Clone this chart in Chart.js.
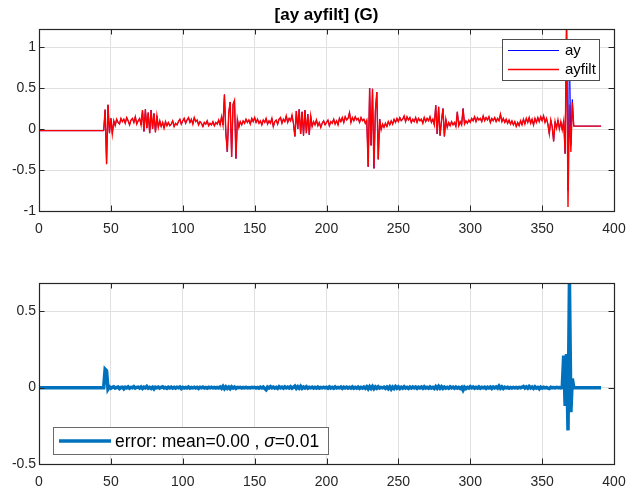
<!DOCTYPE html>
<html>
<head>
<meta charset="utf-8">
<script src="https://cdn.jsdelivr.net/npm/chart.js@4.4.1/dist/chart.umd.min.js"></script>
<style>
  html, body { margin: 0; padding: 0; background: #fff; }
  #wrap { position: relative; width: 630px; height: 490px; }
  canvas { position: absolute; left: 0; }
  #top { top: 0; }
  #bottom { top: 245px; }
</style>
</head>
<body>
<div id="wrap">
  <canvas id="top" width="630" height="245"></canvas>
  <canvas id="bottom" width="630" height="245"></canvas>
</div>
<script>
// sample spacing of the recorded signals
const dt = 1;

const xTicks = [0, 50, 100, 150, 200, 250, 300, 350, 400];
const yTicksTop = [-1, -0.5, 0, 0.5, 1];
const yTicksBottom = [-0.5, 0, 0.5];

// raw lateral acceleration (G)
const ay = [
  -0.02,-0.02,-0.02,-0.02,-0.02,-0.02,-0.02,-0.02,-0.02,-0.02,
  -0.02,-0.02,-0.02,-0.02,-0.02,-0.02,-0.02,-0.02,-0.02,-0.02,
  -0.02,-0.02,-0.02,-0.02,-0.02,-0.02,-0.02,-0.02,-0.02,-0.02,
  -0.02,-0.02,-0.02,-0.02,-0.02,-0.02,-0.02,-0.02,-0.02,-0.02,
  -0.02,-0.02,-0.02,-0.02,-0.02,-0.02,0.23,-0.42,0.29,-0.05,
  0.13,-0.06,0.10,0.04,0.12,0.08,0.06,0.13,0.09,0.12,
  0.07,0.14,0.10,0.05,0.11,0.13,0.08,0.15,0.06,0.10,
  0.13,0.05,0.23,-0.03,0.24,0.01,0.20,-0.05,0.23,0.00,
  0.19,-0.04,0.16,0.02,0.10,0.03,0.08,0.01,0.09,0.04,
  0.08,0.04,0.06,0.10,0.03,0.07,0.05,0.09,0.12,0.06,
  0.10,0.13,0.07,0.11,0.14,0.08,0.12,0.06,0.14,0.09,
  0.11,0.05,0.09,0.07,0.03,0.08,0.06,0.10,0.04,0.07,
  0.05,0.09,0.04,0.08,0.06,0.11,0.05,0.15,0.05,0.42,
  -0.05,-0.28,0.20,0.33,-0.34,0.30,0.35,-0.36,0.12,0.02,
  0.09,0.05,0.10,0.07,0.12,0.08,0.11,0.06,0.13,0.09,
  0.14,0.08,0.12,0.07,0.10,0.05,0.11,0.08,0.13,0.06,
  0.10,0.07,0.13,0.03,0.09,0.11,0.06,0.12,0.14,0.07,
  0.12,0.09,0.16,0.08,0.13,0.10,0.17,0.07,-0.09,0.22,
  0.00,0.24,-0.06,0.21,-0.08,0.23,-0.05,0.18,-0.07,0.16,
  0.03,0.09,0.05,0.11,0.04,0.08,0.02,0.07,0.10,0.05,
  0.08,0.11,0.04,0.09,0.07,0.12,0.06,0.10,0.05,0.13,
  0.09,0.14,0.08,0.15,0.11,0.13,0.20,0.08,0.14,0.10,
  0.15,0.11,0.13,0.08,0.14,0.10,0.12,0.07,0.11,-0.46,
  0.50,-0.20,0.49,-0.48,0.22,0.45,-0.37,0.12,-0.01,0.06,
  0.02,0.07,0.03,0.09,0.05,0.10,0.06,0.12,0.08,0.13,
  0.09,0.14,0.10,0.12,0.16,0.09,0.15,0.11,0.14,0.08,
  0.12,0.09,0.14,0.08,0.13,0.10,0.12,0.07,0.14,0.09,
  0.13,0.10,0.15,0.08,0.12,0.05,0.29,-0.06,0.27,-0.08,
  0.10,0.25,-0.09,0.12,0.02,0.08,0.04,0.09,0.05,0.08,
  0.03,0.21,0.04,0.09,0.05,0.25,0.06,0.10,0.07,0.11,
  0.08,0.13,0.10,0.15,0.09,0.14,0.11,0.13,0.09,0.16,
  0.10,0.14,0.11,0.15,0.08,0.13,0.10,0.14,0.09,0.13,
  0.10,0.18,0.09,0.13,0.08,0.12,0.07,0.11,0.06,0.10,
  0.05,0.09,0.03,0.08,0.04,0.10,0.05,0.12,0.06,0.13,
  0.08,0.14,0.07,0.12,0.05,0.13,0.08,0.14,0.09,0.15,
  0.10,0.16,0.08,0.13,0.06,-0.06,0.11,0.03,-0.15,0.09,
  0.01,0.11,0.00,0.09,-0.01,0.10,-0.30,1.35,-0.75,0.99,
  -0.20,0.36,0.035,0.035,0.035,0.035,0.035,0.035,0.035,0.035,
  0.035,0.035,0.035,0.035,0.035,0.035,0.035,0.035,0.035,0.035,
  0.035,0.035
];

// filtered lateral acceleration (G)
const ayfilt = [
  -0.02,-0.02,-0.02,-0.02,-0.02,-0.02,-0.02,-0.02,-0.02,-0.02,
  -0.02,-0.02,-0.02,-0.02,-0.02,-0.02,-0.02,-0.02,-0.02,-0.02,
  -0.02,-0.02,-0.02,-0.02,-0.02,-0.02,-0.02,-0.02,-0.02,-0.02,
  -0.02,-0.02,-0.02,-0.02,-0.02,-0.02,-0.02,-0.02,-0.02,-0.02,
  -0.02,-0.02,-0.02,-0.02,-0.02,-0.02,0.24,-0.43,0.30,-0.05,
  0.13,-0.06,0.10,0.04,0.12,0.08,0.06,0.13,0.09,0.12,
  0.07,0.14,0.10,0.05,0.11,0.13,0.08,0.15,0.06,0.10,
  0.13,0.05,0.23,-0.03,0.24,0.01,0.20,-0.05,0.23,0.00,
  0.19,-0.04,0.16,0.02,0.10,0.03,0.08,0.01,0.09,0.04,
  0.08,0.04,0.06,0.10,0.03,0.07,0.05,0.09,0.12,0.06,
  0.10,0.13,0.07,0.11,0.14,0.08,0.12,0.06,0.14,0.09,
  0.11,0.05,0.09,0.07,0.03,0.08,0.06,0.10,0.04,0.07,
  0.05,0.09,0.04,0.08,0.06,0.11,0.05,0.15,0.05,0.42,
  -0.05,-0.28,0.20,0.33,-0.34,0.30,0.35,-0.36,0.12,0.02,
  0.09,0.05,0.10,0.07,0.12,0.08,0.11,0.06,0.13,0.09,
  0.14,0.08,0.12,0.07,0.10,0.05,0.11,0.08,0.13,0.06,
  0.10,0.07,0.13,0.03,0.09,0.11,0.06,0.12,0.14,0.07,
  0.12,0.09,0.16,0.08,0.13,0.10,0.17,0.07,-0.09,0.22,
  0.00,0.24,-0.06,0.21,-0.08,0.23,-0.05,0.18,-0.07,0.16,
  0.03,0.09,0.05,0.11,0.04,0.08,0.02,0.07,0.10,0.05,
  0.08,0.11,0.04,0.09,0.07,0.12,0.06,0.10,0.05,0.13,
  0.09,0.14,0.08,0.15,0.11,0.13,0.20,0.08,0.14,0.10,
  0.15,0.11,0.13,0.08,0.14,0.10,0.12,0.07,0.11,-0.46,
  0.50,-0.20,0.49,-0.48,0.22,0.45,-0.37,0.12,-0.01,0.06,
  0.02,0.07,0.03,0.09,0.05,0.10,0.06,0.12,0.08,0.13,
  0.09,0.14,0.10,0.12,0.16,0.09,0.15,0.11,0.14,0.08,
  0.12,0.09,0.14,0.08,0.13,0.10,0.12,0.07,0.14,0.09,
  0.13,0.10,0.15,0.08,0.12,0.05,0.29,-0.06,0.27,-0.08,
  0.10,0.25,-0.09,0.12,0.02,0.08,0.04,0.09,0.05,0.08,
  0.03,0.21,0.04,0.09,0.05,0.25,0.06,0.10,0.07,0.11,
  0.08,0.13,0.10,0.15,0.09,0.14,0.11,0.13,0.09,0.16,
  0.10,0.14,0.11,0.15,0.08,0.13,0.10,0.14,0.09,0.13,
  0.10,0.18,0.09,0.13,0.08,0.12,0.07,0.11,0.06,0.10,
  0.05,0.09,0.03,0.08,0.04,0.10,0.05,0.12,0.06,0.13,
  0.08,0.14,0.07,0.12,0.05,0.13,0.08,0.14,0.09,0.15,
  0.10,0.16,0.08,0.13,0.06,-0.06,0.11,0.03,-0.15,0.09,
  0.01,0.11,0.00,0.09,-0.01,0.10,-0.30,1.35,-0.95,0.30,
  -0.28,0.33,0.035,0.035,0.035,0.035,0.035,0.035,0.035,0.035,
  0.035,0.035,0.035,0.035,0.035,0.035,0.035,0.035,0.035,0.035,
  0.035,0.035
];

// filter error (G)
const err = [
  0,0,0,0,0,0,0,0,0,0,
  0,0,0,0,0,0,0,0,0,0,
  0,0,0,0,0,0,0,0,0,0,
  0,0,0,0,0,0,0,0,0,0,
  0,0,0,0,0,0,0.12,0.11,-0.01,0.005,
  -0.004,0.002,0.006,-0.003,0.001,0.004,-0.006,0.001,0.003,-0.008,
  0.003,-0.002,0.005,-0.004,0.002,-0.001,0.007,-0.003,0.002,0.004,
  -0.003,0.005,-0.006,0.003,-0.002,0.008,-0.004,0.002,-0.005,0.003,
  -0.009,0.003,-0.001,0.004,-0.003,0.002,0.006,-0.002,0.001,-0.005,
  0.003,-0.002,0.004,-0.003,0.002,-0.004,0.003,-0.001,0.004,-0.006,
  0.002,-0.003,0.002,-0.002,0.004,-0.004,0.001,-0.002,0.003,-0.003,
  0.002,-0.005,0.003,-0.001,0.004,-0.003,0.001,-0.004,0.002,-0.002,
  0.003,-0.002,0.001,-0.003,0.002,-0.002,0.004,-0.005,0.008,-0.007,
  0.006,-0.005,0.004,-0.007,0.005,-0.003,0.004,-0.005,0.002,-0.001,
  0.002,-0.003,0.001,-0.002,0.003,-0.002,0.001,-0.002,0.002,-0.001,
  0.002,-0.003,0.001,-0.004,0.003,-0.002,0.004,-0.006,-0.014,0.004,
  -0.003,0.006,-0.002,0.004,-0.003,0.002,-0.005,0.006,-0.002,0.003,
  -0.004,0.005,-0.002,0.004,-0.003,0.006,-0.004,0.002,0.010,-0.005,
  0.006,-0.004,0.009,-0.005,0.004,-0.003,0.006,-0.004,0.002,-0.002,
  0.003,-0.004,0.002,-0.003,0.004,-0.004,0.001,-0.002,0.003,-0.002,
  0.002,-0.004,0.005,-0.003,0.002,-0.004,0.005,-0.003,0.001,-0.002,
  0.004,-0.005,0.003,-0.002,0.004,-0.003,0.002,-0.003,0.005,-0.004,
  0.002,-0.003,0.004,-0.005,0.002,-0.003,0.004,-0.004,0.006,-0.008,
  0.007,-0.006,0.008,-0.007,0.005,-0.004,0.006,-0.003,0.002,-0.002,
  0.003,-0.005,0.004,-0.007,0.005,-0.010,0.004,-0.006,0.007,-0.004,
  0.005,-0.006,0.003,-0.004,0.006,-0.003,0.002,-0.005,0.004,-0.003,
  0.005,-0.002,0.004,-0.005,0.003,-0.002,0.004,-0.004,0.006,-0.003,
  0.002,-0.004,0.005,-0.003,0.002,-0.006,0.007,-0.005,0.009,-0.004,
  0.006,-0.005,0.004,-0.003,0.002,-0.004,0.005,-0.002,0.003,-0.004,
  0.004,-0.003,0.002,-0.005,0.003,-0.016,0.003,-0.006,0.002,-0.003,
  0.006,-0.002,0.004,-0.004,0.002,-0.003,0.005,-0.004,0.002,-0.002,
  0.003,-0.005,0.003,-0.002,0.004,-0.006,0.004,-0.002,0.005,-0.003,
  0.010,-0.004,0.005,-0.006,0.003,-0.002,0.002,-0.004,0.001,-0.003,
  0.002,-0.002,0.001,-0.003,0.002,-0.001,0.003,0.008,-0.003,0.005,
  -0.004,0.008,-0.002,0.004,-0.005,0.006,-0.003,0.002,-0.008,0.003,
  -0.004,0.002,-0.002,0.001,-0.003,-0.006,0.002,-0.001,0.001,-0.002,
  0.002,-0.001,0.001,-0.002,0.000,0.21,-0.12,0.22,-0.28,0.69,
  -0.16,0.06,0,0,0,0,0,0,0,0,
  0,0,0,0,0,0,0,0,0,0,
  0,0
];

const legendTopEntries = ['ay', 'ayfilt'];
const legendBottomParts = ['error: mean=0.00 , ', 'σ', '=0.01'];

Chart.defaults.font.family = '"Liberation Sans", Arial, Helvetica, sans-serif';
Chart.defaults.color = '#262626';

const toPoints = arr => arr.map((v, i) => ({ x: i * dt, y: v }));

const INK = '#262626';
const GRID = '#e0e0e0';

// axes box, inward tick marks on all four sides, title and legend
const framePlugin = {
  id: 'frame',
  afterDraw(chart, args, o) {
    const { ctx, chartArea: a, scales } = chart;
    const L = 5.5;
    const snap = v => Math.round(v) + 0.5;
    ctx.save();
    ctx.strokeStyle = INK;
    ctx.lineWidth = 1;
    ctx.beginPath();
    for (const v of xTicks) {
      const p = snap(scales.x.getPixelForValue(v));
      ctx.moveTo(p, a.bottom); ctx.lineTo(p, a.bottom - L);
      ctx.moveTo(p, a.top); ctx.lineTo(p, a.top + L);
    }
    for (const v of o.yTicks) {
      const p = snap(scales.y.getPixelForValue(v));
      ctx.moveTo(a.left, p); ctx.lineTo(a.left + L, p);
      ctx.moveTo(a.right, p); ctx.lineTo(a.right - L, p);
    }
    ctx.stroke();
    const l = Math.round(a.left), t = Math.round(a.top);
    const r = Math.round(a.right), b = Math.round(a.bottom);
    ctx.lineWidth = 1.2;
    ctx.strokeRect(l + 0.5, t + 0.5, r - l, b - t);

    if (o.title) {
      ctx.fillStyle = '#000';
      ctx.font = 'bold 17px "Liberation Sans", Arial, sans-serif';
      ctx.textAlign = 'center';
      ctx.textBaseline = 'middle';
      ctx.fillText(o.title, (a.left + a.right) / 2, 15);
    }

    if (o.legend === 'top') {
      const ds = chart.data.datasets;
      const w = 97, h = 41;
      const x0 = r - 15 - w, y0 = t + 10;
      ctx.fillStyle = '#fff';
      ctx.fillRect(x0, y0, w, h);
      ctx.strokeStyle = '#4d4d4d';
      ctx.lineWidth = 1;
      ctx.strokeRect(x0 + 0.5, y0 + 0.5, w, h);
      ctx.font = '15px "Liberation Sans", Arial, sans-serif';
      ctx.textAlign = 'left';
      ctx.textBaseline = 'middle';
      legendTopEntries.forEach((name, i) => {
        const d = ds.find(s => s.label === name);
        const yy = y0 + 11.5 + i * 19;
        ctx.strokeStyle = d.borderColor;
        ctx.lineWidth = d.borderWidth;
        ctx.beginPath();
        ctx.moveTo(x0 + 6, yy); ctx.lineTo(x0 + 57, yy);
        ctx.stroke();
        ctx.fillStyle = '#000';
        ctx.fillText(name, x0 + 63, yy + 0.5);
      });
    }

    if (o.legend === 'bottom') {
      const d = chart.data.datasets[0];
      const w = 275, h = 27;
      const x0 = l + 14, y0 = b - 37;
      ctx.fillStyle = '#fff';
      ctx.fillRect(x0, y0, w, h);
      ctx.strokeStyle = '#6a6a6a';
      ctx.lineWidth = 1;
      ctx.strokeRect(x0 + 0.5, y0 + 0.5, w, h);
      const yy = y0 + h / 2 + 0.5;
      ctx.strokeStyle = d.borderColor;
      ctx.lineWidth = d.borderWidth;
      ctx.beginPath();
      ctx.moveTo(x0 + 6, yy); ctx.lineTo(x0 + 58, yy);
      ctx.stroke();
      ctx.fillStyle = '#000';
      ctx.textAlign = 'left';
      ctx.textBaseline = 'middle';
      let xx = x0 + 62;
      legendBottomParts.forEach((part, i) => {
        ctx.font = (i === 1 ? 'italic ' : '') + '17.5px "Liberation Sans", Arial, sans-serif';
        ctx.fillText(part, xx, yy + 1);
        xx += ctx.measureText(part).width;
      });
    }
    ctx.restore();
  }
};

function makeScales(yMin, yMax, yTicks, xHeight) {
  return {
    x: {
      type: 'linear',
      min: 0, max: 400,
      afterBuildTicks: s => { s.ticks = xTicks.map(v => ({ value: v })); },
      afterFit: s => { s.height = xHeight; s.paddingLeft = 0; s.paddingRight = 0; },
      grid: { color: GRID, drawTicks: false },
      border: { display: false },
      ticks: { padding: 10, maxRotation: 0, autoSkip: false, font: { size: 14 }, color: INK,
               callback: v => String(v) }
    },
    y: {
      type: 'linear',
      min: yMin, max: yMax,
      afterBuildTicks: s => { s.ticks = yTicks.map(v => ({ value: v })); },
      afterFit: s => { s.width = 39; s.paddingTop = 0; s.paddingBottom = 0; },
      grid: { color: GRID, drawTicks: false },
      border: { display: false },
      ticks: { padding: 3, autoSkip: false, font: { size: 14 }, color: INK,
               callback: v => String(v) }
    }
  };
}

const common = {
  responsive: false,
  animation: false,
  events: [],
  parsing: false,
  normalized: true,
  elements: { point: { radius: 0 }, line: { tension: 0 } }
};

new Chart(document.getElementById('top'), {
  type: 'line',
  data: {
    datasets: [
      { label: 'ay', data: toPoints(ay), borderColor: '#0000ff', borderWidth: 1, order: 2 },
      { label: 'ayfilt', data: toPoints(ayfilt), borderColor: '#ff0000', borderWidth: 1.4, order: 1 }
    ]
  },
  options: {
    ...common,
    layout: { padding: { top: 29, right: 16, left: 0, bottom: 0 } },
    scales: makeScales(-1, 1.22, yTicksTop, 34),
    plugins: {
      legend: { display: false },
      tooltip: { enabled: false },
      frame: { yTicks: yTicksTop, title: '[ay ayfilt] (G)', legend: 'top' }
    }
  },
  plugins: [framePlugin]
});

new Chart(document.getElementById('bottom'), {
  type: 'line',
  data: {
    datasets: [
      { label: 'error', data: toPoints(err), borderColor: '#0072bd', borderWidth: 3.5 }
    ]
  },
  options: {
    ...common,
    layout: { padding: { top: 38, right: 16, left: 0, bottom: 0 } },
    scales: makeScales(-0.5, 0.685, yTicksBottom, 26),
    plugins: {
      legend: { display: false },
      tooltip: { enabled: false },
      frame: { yTicks: yTicksBottom, legend: 'bottom' }
    }
  },
  plugins: [framePlugin]
});
</script>
</body>
</html>
